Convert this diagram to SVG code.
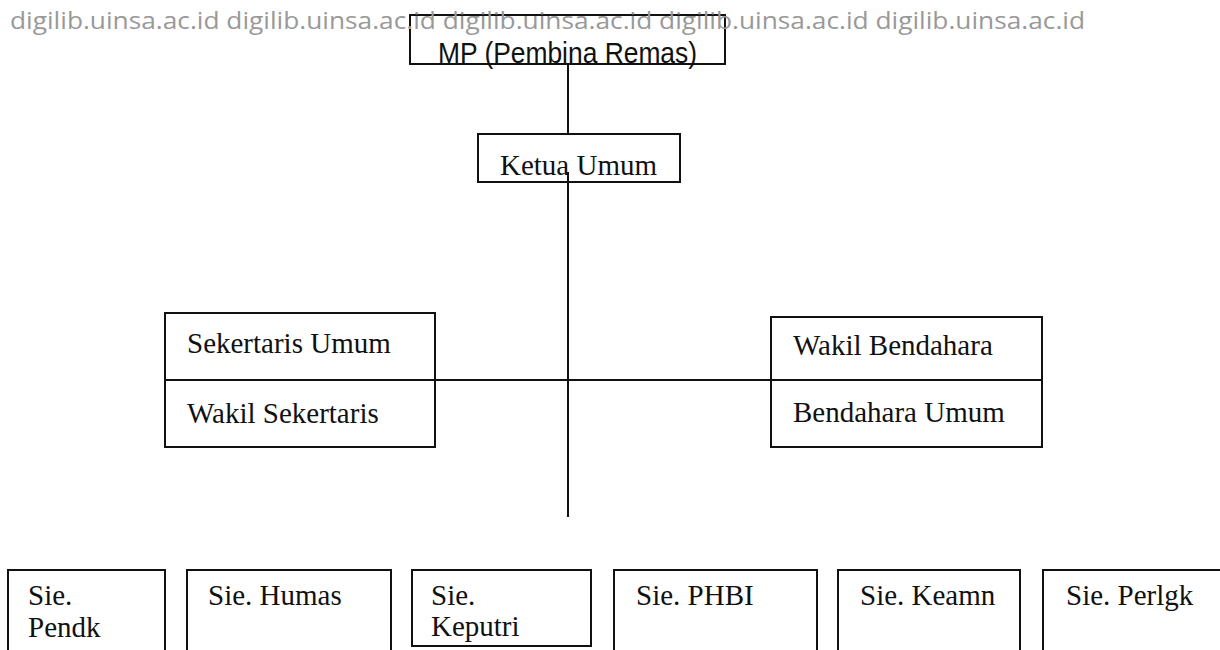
<svg xmlns="http://www.w3.org/2000/svg" width="1220" height="650" viewBox="0 0 1220 650">
<style>
.box{fill:#fff;stroke:#111;stroke-width:2}
.ln{stroke:#111;stroke-width:2;fill:none}
.t{font-family:"Liberation Serif","Times New Roman",serif;font-size:29px;fill:#111}
.mp{font-family:"Liberation Sans Narrow","Liberation Sans",Arial,sans-serif;font-size:29px;fill:#111}
.wm{font-family:"Open Sans","Liberation Sans",sans-serif;font-size:23px;fill:#999}
</style>
<rect width="1220" height="650" fill="#fff"/>
<g id="connectors">
<line class="ln" x1="568" y1="64" x2="568" y2="134"/>
<line class="ln" x1="568" y1="172" x2="568" y2="517"/>
<line class="ln" x1="435" y1="380" x2="771" y2="380"/>
</g>
<g id="mp">
<rect class="box" x="410" y="15" width="315" height="49"/>
<text class="mp" x="438" y="63" textLength="259" lengthAdjust="spacingAndGlyphs">MP (Pembina Remas)</text>
</g>
<g id="ketua">
<rect class="box" x="478" y="134" width="202" height="48"/>
<text class="t" x="500" y="175">Ketua Umum</text>
<line class="ln" x1="568" y1="172" x2="568" y2="182"/>
</g>
<g id="sekertaris">
<rect class="box" x="165" y="313" width="270" height="134"/>
<line class="ln" x1="165" y1="380" x2="435" y2="380"/>
<text class="t" x="187" y="353">Sekertaris Umum</text>
<text class="t" x="187" y="423">Wakil Sekertaris</text>
</g>
<g id="bendahara">
<rect class="box" x="771" y="317" width="271" height="130"/>
<line class="ln" x1="771" y1="380" x2="1042" y2="380"/>
<text class="t" x="793" y="355">Wakil Bendahara</text>
<text class="t" x="793" y="422">Bendahara Umum</text>
</g>
<g id="pendk">
<rect class="box" x="8" y="570" width="157" height="140"/>
<text class="t" x="28" y="605">Sie.</text>
<text class="t" x="28" y="637">Pendk</text>
</g>
<g id="humas">
<rect class="box" x="187" y="570" width="204" height="140"/>
<text class="t" x="208" y="605">Sie. Humas</text>
</g>
<g id="keputri">
<rect class="box" x="412" y="570" width="179" height="76"/>
<text class="t" x="431" y="605">Sie.</text>
<text class="t" x="431" y="636">Keputri</text>
</g>
<g id="phbi">
<rect class="box" x="614" y="570" width="203" height="140"/>
<text class="t" x="636" y="605">Sie. PHBI</text>
</g>
<g id="keamn">
<rect class="box" x="838" y="570" width="182" height="140"/>
<text class="t" x="860" y="605">Sie. Keamn</text>
</g>
<g id="perlgk">
<rect class="box" x="1043" y="570" width="200" height="140"/>
<text class="t" x="1066" y="605">Sie. Perlgk</text>
</g>
<g id="watermark">
<text class="wm" x="10" y="29" textLength="1075" lengthAdjust="spacingAndGlyphs">digilib.uinsa.ac.id digilib.uinsa.ac.id digilib.uinsa.ac.id digilib.uinsa.ac.id digilib.uinsa.ac.id</text>
</g>
</svg>
